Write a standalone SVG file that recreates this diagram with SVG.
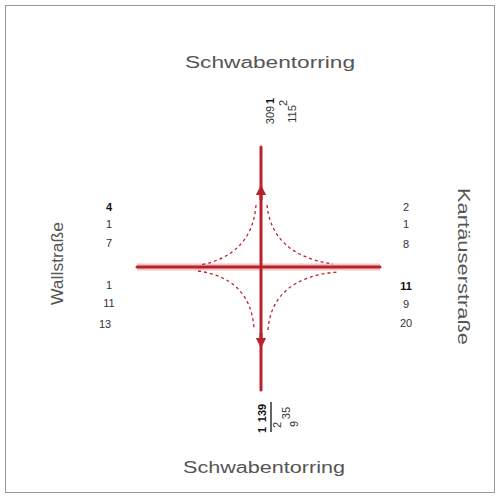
<svg xmlns="http://www.w3.org/2000/svg" width="500" height="498" viewBox="0 0 500 498">
<style>
.street{font-family:"Liberation Sans",Arial,sans-serif;font-size:16px;fill:#555;}
.num{font-family:"Liberation Sans",Arial,sans-serif;font-size:11px;fill:#333;}
.b{font-weight:bold;fill:#111;}
.road{stroke:#b8222b;stroke-width:3;fill:none;stroke-linecap:round;}
.halo{stroke:#f4c4c6;stroke-width:7;fill:none;}
.turn{stroke:#c0202a;stroke-width:1.3;fill:none;stroke-dasharray:3 3;}
</style>
<defs>
<marker id="arr" viewBox="0 0 10 10" refX="5" refY="5" markerWidth="3.5" markerHeight="4" orient="auto">
<path d="M0,0 L10,5 L0,10 z" fill="#b8222b"/>
</marker>
</defs>
<rect x="0" y="0" width="500" height="498" fill="#fff"/>
<rect x="5.5" y="5.5" width="489" height="487" fill="none" stroke="#999" stroke-width="1"/>
<g id="connectors">
<line class="halo" x1="137" y1="267" x2="380" y2="267"/>
<line class="road" x1="137" y1="267" x2="380" y2="267"/>
<line class="road" x1="261" y1="147" x2="261" y2="390"/>
<line x1="261" y1="200" x2="261" y2="190" stroke="#b8222b" stroke-width="3" marker-end="url(#arr)"/>
<line x1="261" y1="333" x2="261" y2="343" stroke="#b8222b" stroke-width="3" marker-end="url(#arr)"/>
<path class="turn" d="M256,205 Q252,255 200,265"/>
<path class="turn" d="M267,205 Q272,255 333,264"/>
<path class="turn" d="M198,271 Q250,278 254,328"/>
<path class="turn" d="M268,330 Q272,278 337,272"/>
</g>
<g id="north">
<text class="street" x="185" y="68" textLength="170" lengthAdjust="spacingAndGlyphs">Schwabentorring</text>
<text class="num b" transform="translate(274,101) rotate(-90)" text-anchor="middle">1</text>
<text class="num" transform="translate(274,115) rotate(-90)" text-anchor="middle">309</text>
<text class="num" transform="translate(287,103) rotate(-90)" text-anchor="middle">2</text>
<text class="num" transform="translate(296,114) rotate(-90)" text-anchor="middle">115</text>
</g>
<g id="south">
<text class="street" x="183" y="473" textLength="162" lengthAdjust="spacingAndGlyphs">Schwabentorring</text>
<text class="num b" transform="translate(266,413) rotate(-90)" text-anchor="middle">139</text>
<text class="num b" transform="translate(266,430) rotate(-90)" text-anchor="middle">1</text>
<line x1="271" y1="402" x2="271" y2="432" stroke="#333" stroke-width="1.5"/>
<text class="num" transform="translate(281,425) rotate(-90)" text-anchor="middle">2</text>
<text class="num" transform="translate(290,413) rotate(-90)" text-anchor="middle">35</text>
<text class="num" transform="translate(298,424) rotate(-90)" text-anchor="middle">9</text>
</g>
<g id="west">
<text class="street" transform="translate(63,305) rotate(-90)" textLength="83" lengthAdjust="spacingAndGlyphs">Wallstraße</text>
<text class="num b" x="109" y="211" text-anchor="middle">4</text>
<text class="num" x="109" y="228" text-anchor="middle">1</text>
<text class="num" x="109" y="247" text-anchor="middle">7</text>
<text class="num" x="109" y="289" text-anchor="middle">1</text>
<text class="num" x="109" y="307" text-anchor="middle">11</text>
<text class="num" x="105" y="328" text-anchor="middle">13</text>
</g>
<g id="east">
<text class="street" transform="translate(458,188) rotate(90)" textLength="157" lengthAdjust="spacingAndGlyphs">Kartäuserstraße</text>
<text class="num" x="406" y="211" text-anchor="middle">2</text>
<text class="num" x="406" y="228" text-anchor="middle">1</text>
<text class="num" x="406" y="248" text-anchor="middle">8</text>
<text class="num b" x="406" y="290" text-anchor="middle">11</text>
<text class="num" x="406" y="308" text-anchor="middle">9</text>
<text class="num" x="406" y="327" text-anchor="middle">20</text>
</g>
</svg>
